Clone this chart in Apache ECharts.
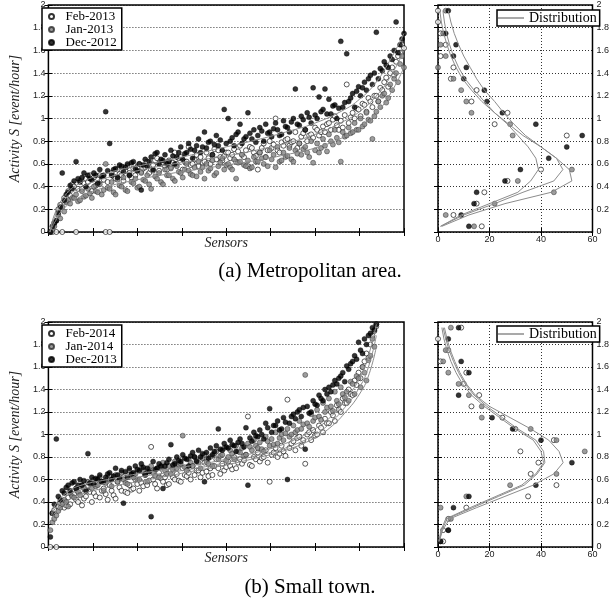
<!DOCTYPE html>
<html>
<head>
<meta charset="UTF-8">
<title></title>
<script src="https://cdn.jsdelivr.net/npm/echarts@6/dist/echarts.min.js"></script>
<style>
* { margin: 0; padding: 0; }
#app { width: 612px; height: 601px; background: #fff; }
</style>
</head>
<body>
<div id="app"></div>
<script>
// ---- (a) metropolitan area: activity per sensor, one value per sensor
var febA = [
  0, 0, 0.08, 0, 0.2, 0.24, 0, 0.3, 0.27, 0.36, 0.32, 0.42, 0.4, 0, 0.38,
  0.45, 0.38, 0.43, 0.47, 0.44, 0.5, 0.36, 0.48, 0.41, 0.42, 0.5, 0.46, 0.46, 0, 0.44,
  0, 0.52, 0.49, 0.47, 0.55, 0.51, 0.5, 0.45, 0.54, 0.58, 0.52, 0.48, 0.56, 0.5, 0.57,
  0.6, 0.53, 0.56, 0.57, 0.62, 0.52, 0.55, 0.59, 0.63, 0.65, 0.54, 0.6, 0.61, 0.58, 0.55,
  0.63, 0.57, 0.61, 0.7, 0.6, 0.65, 0.66, 0.55, 0.62, 0.62, 0.75, 0.59, 0.6, 0.64, 0.68,
  0.58, 0.66, 0.61, 0.62, 0.7, 0.65, 0.6, 0.68, 0.73, 0.64, 0.72, 0.66, 0.63, 0.67, 0.7,
  0.7, 0.65, 0.68, 0.73, 0.62, 0.71, 0.76, 0.68, 0.66, 0.72, 0.58, 0.75, 0.74, 0.7, 0.67,
  0.55, 0.7, 0.74, 0.78, 0.66, 0.72, 0.8, 0.74, 0.77, 1.0, 0.72, 0.7, 0.79, 0.76, 0.81,
  0.82, 0.76, 0.79, 0.8, 0.88, 0.74, 0.78, 0.84, 0.87, 0.9, 0.8, 0.85, 0.86, 0.83, 0.92,
  0.9, 0.85, 0.88, 0.93, 0.88, 0.95, 0.96, 0.9, 0.99, 1.02, 0.94, 0.9, 0.98, 0.92, 1.03,
  1.3, 0.96, 1.01, 1.05, 1.0, 1.09, 1.08, 1.02, 1.13, 1.12, 1.06, 1.18, 1.15, 1.1, 1.2,
  1.2, 1.15, 1.27, 1.25, 1.32, 1.36, 1.28, 1.4, 1.45, 1.38, 1.5, 1.55, 1.58, 1.65, 1.62
];
var janA = [
  0, 0.02, 0.05, 0.1, 0.15, 0.12, 0.22, 0.18, 0.26, 0.28, 0.25, 0.3, 0.3, 0.33, 0.27,
  0.28, 0.36, 0.31, 0.32, 0.38, 0.34, 0.3, 0.4, 0.36, 0.35, 0.42, 0.33, 0.37, 0.6, 0.39,
  0.38, 0.44, 0.35, 0.33, 0.46, 0.41, 0.4, 0.48, 0.37, 0.36, 0.5, 0.44, 0.43, 0.47, 0.39,
  0.4, 0.52, 0.46, 0.45, 0.5, 0.42, 0.38, 0.54, 0.49, 0.47, 0.52, 0.44, 0.42, 0.55, 0.5,
  0.5, 0.56, 0.47, 0.45, 0.58, 0.53, 0.52, 0.48, 0.55, 0.6, 0.54, 0.51, 0.5, 0.57, 0.49,
  0.62, 0.53, 0.57, 0.47, 0.6, 0.54, 0.56, 0.63, 0.5, 0.52, 0.58, 0.61, 0.65, 0.55, 0.59,
  0.6, 0.57, 0.55, 0.64, 0.47, 0.61, 0.62, 0.68, 0.59, 0.58, 0.63, 0.56, 0.57, 0.66, 0.62,
  0.62, 0.7, 0.65, 0.6, 0.66, 0.58, 0.72, 0.64, 0.68, 0.57, 0.75, 0.62, 0.63, 0.7, 0.66,
  0.67, 0.74, 0.64, 0.62, 0.72, 0.69, 0.78, 0.68, 0.73, 0.75, 0.7, 0.66, 0.8, 0.61, 0.72,
  0.78, 0.7, 0.74, 0.82, 0.76, 0.71, 0.86, 0.8, 0.77, 0.9, 0.83, 0.79, 0.62, 0.88, 0.84,
  0.85, 0.92, 0.87, 0.88, 0.96, 0.9, 0.9, 1.0, 0.93, 0.95, 1.05, 0.99, 0.98, 0.82, 1.02,
  1.06, 1.15, 1.1, 1.2, 1.22, 1.14, 1.18, 1.3, 1.25, 1.35, 1.4, 1.32, 1.48, 1.55, 1.45
];
var decA = [
  0, 0.05, 0.08, 0.1, 0.17, 0.22, 0.52, 0.28, 0.33, 0.35, 0.41, 0.38, 0.45, 0.62, 0.47,
  0.44, 0.48, 0.52, 0.4, 0.5, 0.47, 0.46, 0.52, 0.5, 0.43, 0.55, 0.49, 0.5, 1.06, 0.54,
  0.78, 0.5, 0.55, 0.56, 0.48, 0.59, 0.58, 0.53, 0.57, 0.6, 0.5, 0.61, 0.62, 0.56, 0.54,
  0.6, 0.37, 0.59, 0.64, 0.58, 0.62, 0.66, 0.55, 0.69, 0.7, 0.6, 0.64, 0.63, 0.68, 0.6,
  0.62, 0.72, 0.67, 0.6, 0.66, 0.7, 0.75, 0.64, 0.69, 0.7, 0.78, 0.73, 0.65, 0.72, 0.76,
  0.82, 0.7, 0.75, 0.88, 0.74, 0.79, 0.8, 0.68, 0.77, 0.85, 0.76, 0.81, 0.72, 1.08, 0.78,
  1.0, 0.8, 0.83, 0.76, 0.86, 0.88, 0.95, 0.78, 0.82, 0.84, 1.05, 0.87, 0.82, 0.9, 0.79,
  0.85, 0.92, 0.89, 0.8, 0.95, 0.87, 0.88, 0.84, 0.91, 0.96, 0.9, 0.85, 0.86, 0.98, 0.93,
  0.92, 0.88, 0.97, 1.0, 1.26, 0.95, 0.94, 1.02, 0.99, 0.9, 1.05, 1.01, 0.96, 1.27, 1.03,
  1.0, 1.19, 1.06, 1.08, 1.26, 1.04, 1.17, 1.04, 1.11, 1.12, 1.0, 1.09, 1.68, 1.1, 1.14,
  1.57, 1.15, 1.18, 1.22, 1.1, 1.24, 1.28, 1.2, 1.27, 1.32, 1.25, 1.35, 1.38, 1.3, 1.4,
  1.76, 1.35, 1.44, 1.42, 1.5, 1.47, 1.45, 1.55, 1.52, 1.6, 1.85, 1.58, 1.65, 1.7, 1.75
];
// smooth fitted trends (grey lines) in the left panel
var fitXA = [0.75, 3, 7.5, 15, 30, 45, 60, 75, 90, 105, 120, 135, 150, 157.5, 165, 172.5, 180];
var fitDecA = [0, 0.15, 0.3, 0.42, 0.52, 0.58, 0.63, 0.69, 0.75, 0.81, 0.88, 0.96, 1.08, 1.17, 1.3, 1.5, 1.75];
var fitFebA = [0, 0.12, 0.27, 0.38, 0.48, 0.54, 0.59, 0.63, 0.67, 0.72, 0.78, 0.86, 0.98, 1.06, 1.18, 1.35, 1.6];
var fitJanA = [0, 0.08, 0.2, 0.3, 0.4, 0.46, 0.51, 0.55, 0.59, 0.63, 0.68, 0.74, 0.84, 0.92, 1.03, 1.2, 1.45];

// ---- (b) small town
var febB = [
  0, 0.3, 0.33, 0, 0.36, 0.39, 0.4, 0.35, 0.37, 0.44, 0.38, 0.46, 0.47, 0.42, 0.4,
  0.5, 0.37, 0.43, 0.45, 0.54, 0.49, 0.4, 0.48, 0.45, 0.6, 0.44, 0.5, 0.52, 0.47, 0.42,
  0.55, 0.5, 0.46, 0.43, 0.58, 0.53, 0.5, 0.62, 0.49, 0.48, 0.55, 0.51, 0.52, 0.6, 0.56,
  0.5, 0.57, 0.54, 0.64, 0.55, 0.59, 0.89, 0.6, 0.56, 0.52, 0.66, 0.61, 0.58, 0.62, 0.55,
  0.56, 0.68, 0.62, 0.6, 0.65, 0.59, 0.58, 0.7, 0.64, 0.63, 0.66, 0.6, 0.72, 0.64, 0.68,
  0.68, 0.62, 0.66, 0.75, 0.67, 0.63, 0.7, 0.64, 0.72, 0.78, 0.7, 0.65, 0.74, 0.68, 0.71,
  0.76, 0.72, 0.69, 0.8, 0.7, 0.75, 0.78, 0.74, 0.77, 0.82, 1.16, 0.73, 0.72, 0.8, 0.78,
  0.84, 0.76, 0.79, 0.8, 0.86, 0.75, 0.58, 0.82, 0.84, 0.88, 0.8, 0.83, 0.9, 0.85, 0.81,
  1.31, 0.88, 0.92, 0.94, 0.86, 0.97, 0.98, 0.9, 0.95, 0.74, 1.0, 1.02, 0.95, 1.04, 0.99,
  1.0, 1.08, 1.06, 1.02, 1.14, 1.1, 1.1, 1.2, 1.17, 1.12, 1.26, 1.22, 1.2, 1.32, 1.28,
  1.28, 1.4, 1.36, 1.35, 1.48, 1.44, 1.55, 1.5, 1.6, 1.65, 1.72, 1.68, 1.8, 1.88, 1.92, 1.98
];
var janB = [
  0.15, 0.22, 0.25, 0.28, 0.32, 0.35, 0.38, 0.42, 0.4, 0.36, 0.48, 0.45, 0.44, 0.52, 0.49,
  0.46, 0.55, 0.53, 0.5, 0.58, 0.56, 0.52, 0.6, 0.54, 0.55, 0.62, 0.58, 0.5, 0.57, 0.61,
  0.6, 0.54, 0.63, 0.64, 0.58, 0.61, 0.66, 0.6, 0.57, 0.56, 0.68, 0.64, 0.62, 0.65, 0.6,
  0.6, 0.7, 0.67, 0.64, 0.58, 0.69, 0.72, 0.66, 0.63, 0.7, 0.62, 0.71, 0.75, 0.68, 0.65,
  0.72, 0.65, 0.69, 0.76, 0.7, 0.73, 0.74, 0.99, 0.71, 0.68, 0.78, 0.75, 0.72, 0.8, 0.77,
  0.75, 0.7, 0.79, 0.82, 0.76, 0.74, 0.8, 0.72, 0.83, 0.85, 0.78, 0.81, 0.82, 0.88, 0.77,
  0.8, 0.86, 0.83, 0.78, 0.9, 0.85, 0.84, 0.88, 0.81, 0.82, 0.92, 0.89, 0.86, 0.95, 0.9,
  0.88, 0.93, 0.87, 0.85, 0.98, 0.94, 0.9, 0.96, 0.91, 1.02, 0.92, 0.97, 1.0, 0.95, 1.01,
  1.05, 0.98, 1.0, 1.08, 1.02, 1.04, 1.12, 1.05, 1.09, 1.53, 1.1, 1.07, 1.18, 1.12, 1.15,
  1.22, 1.16, 1.13, 1.28, 1.2, 1.24, 1.32, 1.25, 1.21, 1.38, 1.3, 1.27, 1.42, 1.36, 1.33,
  1.38, 1.3, 1.47, 1.45, 1.36, 1.52, 1.5, 1.42, 1.6, 1.55, 1.48, 1.66, 1.7, 1.85, 1.78, 1.96
];
var decB = [
  0.09, 0.3, 0.38, 0.96, 0.45, 0.42, 0.5, 0.48, 0.53, 0.55, 0.5, 0.57, 0.58, 0.52, 0.55,
  0.6, 0.55, 0.59, 0.5, 0.83, 0.57, 0.62, 0.56, 0.61, 0.6, 0.64, 0.58, 0.58, 0.62, 0.65,
  0.66, 0.6, 0.63, 0.7, 0.64, 0.61, 0.68, 0.39, 0.67, 0.62, 0.7, 0.65, 0.66, 0.72, 0.69,
  0.68, 0.74, 0.71, 0.65, 0.7, 0.67, 0.27, 0.76, 0.69, 0.7, 0.74, 0.72, 0.52, 0.72, 0.75,
  0.78, 0.91, 0.73, 0.74, 0.8, 0.77, 0.76, 0.82, 0.79, 0.78, 0.72, 0.81, 0.84, 0.8, 0.76,
  0.86, 0.8, 0.83, 0.58, 0.84, 0.79, 0.88, 0.82, 0.85, 0.9, 1.05, 0.87, 0.86, 0.92, 0.89,
  0.88, 0.95, 0.91, 0.9, 0.85, 0.93, 0.96, 0.92, 0.89, 1.06, 0.55, 0.97, 0.94, 1.02, 0.99,
  0.98, 1.04, 1.0, 0.96, 1.1, 1.06, 1.23, 1.02, 1.08, 1.08, 1.12, 1.04, 1.05, 1.15, 1.11,
  0.6, 1.1, 1.16, 1.18, 1.14, 1.2, 1.22, 1.16, 1.24, 0.87, 1.25, 1.19, 1.2, 1.3, 1.27,
  1.26, 1.35, 1.32, 1.3, 1.4, 1.36, 1.42, 1.38, 1.44, 1.48, 1.45, 1.5, 1.52, 1.55, 1.47,
  1.61, 1.58, 1.63, 1.65, 1.7, 1.67, 1.82, 1.75, 1.72, 1.85, 1.8, 1.88, 1.9, 1.95, 1.93, 1.98
];
var fitXB = [1.5, 4.5, 9, 15, 30, 45, 60, 75, 90, 105, 120, 135, 142.5, 150, 157.5, 162, 166];
var fitDecB = [0.3, 0.4, 0.48, 0.54, 0.6, 0.65, 0.69, 0.73, 0.78, 0.84, 0.92, 1.05, 1.15, 1.3, 1.5, 1.7, 1.98];
var fitJanB = [0.28, 0.37, 0.45, 0.5, 0.57, 0.62, 0.66, 0.7, 0.75, 0.81, 0.88, 1.0, 1.1, 1.24, 1.42, 1.6, 1.88];
var fitFebB = [0.25, 0.33, 0.4, 0.46, 0.53, 0.58, 0.63, 0.68, 0.73, 0.79, 0.86, 0.97, 1.06, 1.19, 1.36, 1.52, 1.78];

// ---- histograms (right panels): bin centres and counts per bin
var bins = [0.05, 0.15, 0.25, 0.35, 0.45, 0.55, 0.65, 0.75, 0.85, 0.95,
            1.05, 1.15, 1.25, 1.35, 1.45, 1.55, 1.65, 1.75, 1.85, 1.95];
var histFebA = [17, 6, 15, 18, 27, 40, 66, 64, 50, 22, 27, 13, 15, 5, 6, 1, 3, 1, 0, 0];
var histJanA = [14, 3, 22, 45, 31, 52, 72, 68, 29, 28, 13, 11, 9, 6, 0, 3, 1, 2, null, 3];
var histDecA = [12, 9, 14, 15, 26, 32, 43, 50, 56, 38, 25, 19, 18, 10, 11, 6, 7, 3, null, 4];
var distA1 = [1, 9, 20, 31, 36, 39, 38, 35, 31, 27, 22, 17, 13, 9.5, 7, 5, 3.5, 2.2, 1.3, 0.7];
var distA2 = [1, 10, 22, 33, 45, 48.5, 46, 40, 33, 27.5, 22, 18, 14, 10.5, 8, 6, 4.5, 3.3, 2.5, 1.9];
var distA3 = [1.5, 12, 26, 44, 52, 51, 46, 40, 34, 29.5, 25.5, 22, 18, 15, 12.5, 10, 8, 6.3, 5, 4];

var histFebB = [2, 2, 4, 11, 35, 46, 36, 39, 32, 45, 30, 25, 13, 16, 10, 11, 1, 4, 0, 9];
var histJanB = [1, 4, 5, 1, 11, 28, 46, 64, 57, 46, 36, 17, 17, 12, 8, 4, 2, 3, null, 5];
var histDecB = [1, 4, null, 6, 12, 38, 62, 52, 66, 40, 29, 21, null, 8, null, 12, 9, null, 4, 8];
var distB1 = [0.5, 1.8, 4.5, 15, 26, 37, 45, 48.6, 47, 43, 36, 28, 20, 14.5, 11, 8.5, 6.5, 4.8, 3.5, 2.5];
var distB2 = [0.4, 1.5, 3.5, 13.5, 23.5, 33.5, 38.5, 41.5, 41, 38, 31, 25, 19, 14, 10.5, 8, 6, 4.3, 3, 2];
var distB3 = [0.3, 1.2, 3, 12.5, 22.5, 32.5, 38, 41, 40, 37, 30, 24, 18, 13, 9.5, 7, 5, 3.5, 2.3, 1.5];

function pts(arr) { return arr.map(function (v, i) { return [i + 1, v]; }); }
function fit(xs, ys) { return xs.map(function (x, k) { return [x, ys[k]]; }); }
function hist(counts) {
  var out = [];
  counts.forEach(function (c, k) { if (c !== null) out.push([c, bins[k]]); });
  return out;
}
function prof(xs) { return xs.map(function (x, k) { return [x, bins[k]]; }); }

var myChart = echarts.init(document.getElementById('app'));

var tickFont = { fontFamily: 'Liberation Sans', fontSize: 9, color: '#222' };
var dotted = { show: true, lineStyle: { color: '#000', width: 0.8, type: [1, 2] } };
var nameFont = { fontFamily: 'Liberation Serif', fontStyle: 'italic', fontSize: 14, color: '#222' };

function axis(grid, pos, min, max, interval, labels, split, extra) {
  var a = {
    type: 'value', gridIndex: grid, position: pos, min: min, max: max, interval: interval,
    axisLine: { show: false },
    axisTick: { show: true, inside: true, length: 4, lineStyle: { color: '#000', width: 1 } },
    axisLabel: labels ? Object.assign({ show: true, margin: pos === 'right' ? 4 : 3 }, tickFont) : { show: false },
    splitLine: split ? dotted : { show: false }
  };
  return Object.assign(a, extra || {});
}

var grids = [
  { left: 38, top: 5, width: 366, height: 227 },
  { left: 438, top: 5, width: 166, height: 227 },
  { left: 38, top: 322, width: 366, height: 225 },
  { left: 438, top: 322, width: 166, height: 225 }
].map(function (g) {
  return Object.assign(g, { show: true, borderColor: '#000', borderWidth: 1.5, backgroundColor: '#fff' });
});

var sensorName = { name: 'Sensors', nameLocation: 'middle', nameGap: 4, nameTextStyle: nameFont };
var activityName = { name: 'Activity S [event/hour]', nameLocation: 'middle', nameGap: 17, nameRotate: 90, nameTextStyle: nameFont };

var xAxes = [
  axis(0, 'bottom', 0, 180, 22.5, false, false, sensorName),
  axis(0, 'top', 0, 180, 22.5, false, false),
  axis(1, 'bottom', 0, 60, 20, true, true),
  axis(1, 'top', 0, 60, 20, false, false),
  axis(2, 'bottom', 0, 180, 22.5, false, false, sensorName),
  axis(2, 'top', 0, 180, 22.5, false, false),
  axis(3, 'bottom', 0, 60, 20, true, true),
  axis(3, 'top', 0, 60, 20, false, false)
];
var yAxes = [
  axis(0, 'left', 0, 2, 0.2, true, true, activityName),
  axis(0, 'right', 0, 2, 0.2, false, false),
  axis(1, 'right', 0, 2, 0.2, true, true),
  axis(1, 'left', 0, 2, 0.2, false, false),
  axis(2, 'left', 0, 2, 0.2, true, true, activityName),
  axis(2, 'right', 0, 2, 0.2, false, false),
  axis(3, 'right', 0, 2, 0.2, true, true),
  axis(3, 'left', 0, 2, 0.2, false, false)
];

var styles = {
  open: { color: '#fff', borderColor: '#000', borderWidth: 0.8 },
  gray: { color: '#858585', borderColor: '#2a2a2a', borderWidth: 0.6 },
  black: { color: '#000', borderColor: '#000', borderWidth: 0.5 }
};

function scatter(name, data, style, ax) {
  return { name: name, type: 'scatter', xAxisIndex: ax, yAxisIndex: ax, data: data,
           symbol: 'circle', symbolSize: 5, itemStyle: style, z: 3, clip: true };
}
function curve(name, data, ax, smooth) {
  return { name: name, type: 'line', xAxisIndex: ax, yAxisIndex: ax, data: data,
           symbol: 'none', smooth: smooth, z: 4, clip: true,
           lineStyle: { color: '#8c8c8c', width: 1 }, itemStyle: { color: '#8c8c8c' } };
}

var series = [
  scatter('Feb-2013', pts(febA), styles.open, 0),
  scatter('Jan-2013', pts(janA), styles.gray, 0),
  scatter('Dec-2012', pts(decA), styles.black, 0),
  curve('fit', fit(fitXA, fitFebA), 0, true),
  curve('fit', fit(fitXA, fitJanA), 0, true),
  curve('fit', fit(fitXA, fitDecA), 0, true),

  scatter('Feb-2013', hist(histFebA), styles.open, 2),
  scatter('Jan-2013', hist(histJanA), styles.gray, 2),
  scatter('Dec-2012', hist(histDecA), styles.black, 2),
  curve('Distribution', prof(distA1), 2, false),
  curve('Distribution', prof(distA2), 2, false),
  curve('Distribution', prof(distA3), 2, false),

  scatter('Feb-2014', pts(febB), styles.open, 4),
  scatter('Jan-2014', pts(janB), styles.gray, 4),
  scatter('Dec-2013', pts(decB), styles.black, 4),
  curve('fit', fit(fitXB, fitFebB), 4, true),
  curve('fit', fit(fitXB, fitJanB), 4, true),
  curve('fit', fit(fitXB, fitDecB), 4, true),

  scatter('Feb-2014', hist(histFebB), styles.open, 6),
  scatter('Jan-2014', hist(histJanB), styles.gray, 6),
  scatter('Dec-2013', hist(histDecB), styles.black, 6),
  curve('Distribution', prof(distB1), 6, false),
  curve('Distribution', prof(distB2), 6, false),
  curve('Distribution', prof(distB3), 6, false)
];

var legendText = { fontFamily: 'Liberation Serif', fontSize: 13, color: '#000', lineHeight: 12 };
function monthLegend(names, top) {
  return { data: names, orient: 'vertical', left: 42, top: top, selectedMode: false,
           itemWidth: 18, itemHeight: 5, itemGap: 0, padding: [2, 5, 1, 6],
           backgroundColor: '#fff', borderColor: '#000', borderWidth: 1.5,
           textStyle: legendText, z: 10 };
}
function distLegend(top) {
  return { data: ['Distribution'], left: 497, top: top, selectedMode: false,
           icon: 'rect', itemWidth: 26, itemHeight: 1.5, padding: [1, 3, 1, 1],
           backgroundColor: '#fff', borderColor: '#000', borderWidth: 1.5,
           textStyle: Object.assign({}, legendText, { fontSize: 14 }), z: 10 };
}

var captionFont = '21px "Liberation Serif"';

var option = {
  animation: false,
  backgroundColor: '#fff',
  grid: grids,
  xAxis: xAxes,
  yAxis: yAxes,
  legend: [
    monthLegend(['Feb-2013', 'Jan-2013', 'Dec-2012'], 8),
    distLegend(10),
    monthLegend(['Feb-2014', 'Jan-2014', 'Dec-2013'], 325),
    distLegend(326)
  ],
  graphic: [
    { type: 'text', x: 310, y: 271, style: { text: '(a) Metropolitan area.', fill: '#000',
      font: captionFont, align: 'center', verticalAlign: 'middle' } },
    { type: 'text', x: 310, y: 587, style: { text: '(b) Small town.', fill: '#000',
      font: captionFont, align: 'center', verticalAlign: 'middle' } }
  ],
  series: series
};

myChart.setOption(option);
</script>
</body>
</html>
